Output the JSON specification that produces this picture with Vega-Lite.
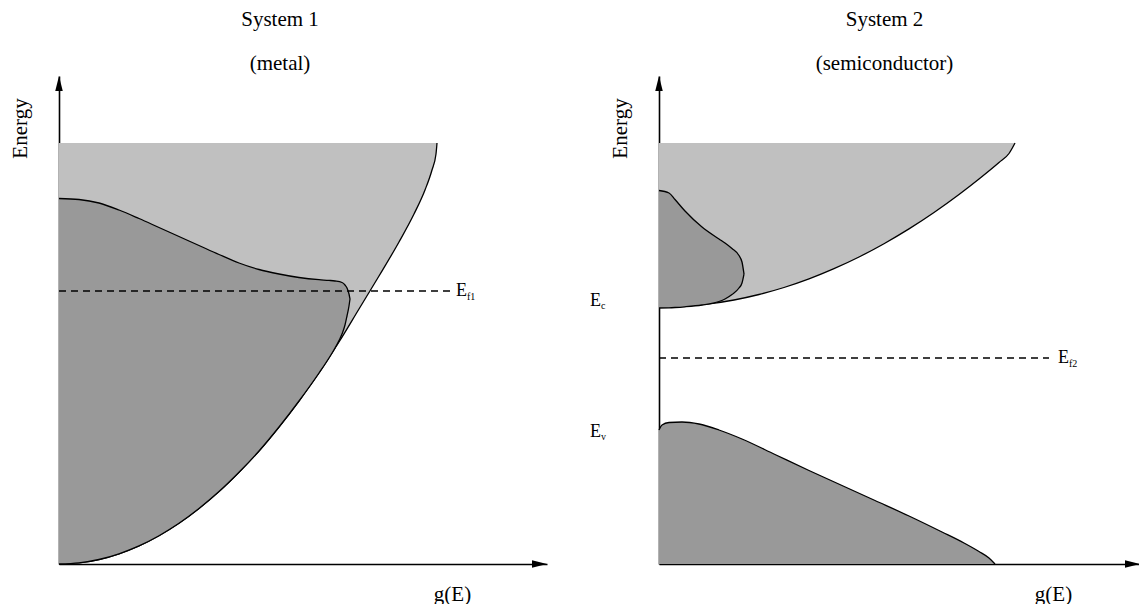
{
  "$schema": "https://vega.github.io/schema/vega-lite/v6.json",
  "padding": {"left": 8, "top": 9, "right": 0, "bottom": 0},
  "background": "white",
  "spacing": 112,
  "bounds": "flush",
  "config": {
    "view": {"stroke": null},
    "font": "Liberation Serif",
    "title": {"font": "Liberation Serif", "fontSize": 21, "fontWeight": "normal", "color": "black", "anchor": "middle", "lineHeight": 44},
    "axis": {"domain": true, "domainColor": "black", "domainWidth": 1.6, "ticks": false, "labels": false, "grid": false,
      "titleFont": "Liberation Serif", "titleFontSize": 21, "titleFontWeight": "normal", "titleColor": "black",
      "titleAlign": "center", "titleBaseline": "middle", "zindex": 1},
    "text": {"font": "Liberation Serif", "color": "black"}
  },
  "datasets": {
    "metalAllowed": [
      {"g": 0, "E": 0, "Etop": 421}, {"g": 20, "E": 1.1, "Etop": 421}, {"g": 40, "E": 4.5, "Etop": 421},
      {"g": 60, "E": 10.2, "Etop": 421}, {"g": 80, "E": 18.1, "Etop": 421}, {"g": 100, "E": 28.3, "Etop": 421},
      {"g": 120, "E": 40.7, "Etop": 421}, {"g": 140, "E": 55.5, "Etop": 421}, {"g": 160, "E": 72.4, "Etop": 421},
      {"g": 180, "E": 91.7, "Etop": 421}, {"g": 200, "E": 113, "Etop": 421}, {"g": 220, "E": 137, "Etop": 421},
      {"g": 240, "E": 163, "Etop": 421}, {"g": 260, "E": 191, "Etop": 421}, {"g": 280, "E": 222, "Etop": 421},
      {"g": 300, "E": 255, "Etop": 421}, {"g": 320, "E": 288, "Etop": 421}, {"g": 340, "E": 322, "Etop": 421},
      {"g": 355, "E": 350, "Etop": 421}, {"g": 366, "E": 374, "Etop": 421}, {"g": 373, "E": 394, "Etop": 421},
      {"g": 377, "E": 410, "Etop": 421}, {"g": 378, "E": 421, "Etop": 421}
    ],
    "metalFilled": [
      {"g": 0, "E": 365.5, "Elow": 0}, {"g": 20, "E": 364.5, "Elow": 1.1}, {"g": 40, "E": 361, "Elow": 4.5},
      {"g": 60, "E": 354, "Elow": 10.2}, {"g": 80, "E": 345.5, "Elow": 18.1}, {"g": 100, "E": 336.5, "Elow": 28.3},
      {"g": 120, "E": 327.5, "Elow": 40.7}, {"g": 140, "E": 318.5, "Elow": 55.5}, {"g": 160, "E": 309.5, "Elow": 72.4},
      {"g": 180, "E": 301, "Elow": 91.7}, {"g": 200, "E": 294.5, "Elow": 113}, {"g": 220, "E": 290, "Elow": 137},
      {"g": 240, "E": 286.5, "Elow": 163}, {"g": 260, "E": 284.3, "Elow": 191}, {"g": 270, "E": 283.6, "Elow": 206},
      {"g": 276, "E": 283, "Elow": 216}, {"g": 283, "E": 281.5, "Elow": 230}, {"g": 286, "E": 279, "Elow": 239},
      {"g": 288, "E": 276, "Elow": 248}, {"g": 290, "E": 270, "Elow": 258}, {"g": 291, "E": 265, "Elow": 265}
    ],
    "metalFermi": [{"g": 0, "E": 273, "sub": "f1"}, {"g": 391, "E": 273, "sub": "f1"}],
    "semiCondAllowed": [
      {"g": 0, "E": 257, "Etop": 421}, {"g": 25, "E": 257.8, "Etop": 421}, {"g": 50, "E": 260.1, "Etop": 421},
      {"g": 75, "E": 264, "Etop": 421}, {"g": 100, "E": 269.5, "Etop": 421}, {"g": 125, "E": 276.5, "Etop": 421},
      {"g": 150, "E": 285.1, "Etop": 421}, {"g": 175, "E": 295.3, "Etop": 421}, {"g": 200, "E": 307, "Etop": 421},
      {"g": 225, "E": 320.3, "Etop": 421}, {"g": 250, "E": 335.1, "Etop": 421}, {"g": 275, "E": 351.5, "Etop": 421},
      {"g": 300, "E": 369.5, "Etop": 421}, {"g": 320, "E": 385, "Etop": 421}, {"g": 340, "E": 401.5, "Etop": 421},
      {"g": 350, "E": 410.5, "Etop": 421}, {"g": 356, "E": 421, "Etop": 421}
    ],
    "semiCondFilled": [
      {"g": 0, "E": 373.5, "Elow": 256}, {"g": 10, "E": 371, "Elow": 256.2}, {"g": 16, "E": 364.5, "Elow": 256.5},
      {"g": 26, "E": 353, "Elow": 257.2}, {"g": 43, "E": 337, "Elow": 259}, {"g": 60, "E": 325, "Elow": 262.5},
      {"g": 66, "E": 321, "Elow": 265}, {"g": 73, "E": 315.5, "Elow": 269.5}, {"g": 80, "E": 308.5, "Elow": 276},
      {"g": 83, "E": 302, "Elow": 281}, {"g": 85, "E": 290, "Elow": 290}
    ],
    "semiValFilled": [
      {"g": 0, "E": 134}, {"g": 3, "E": 139}, {"g": 10, "E": 141.5}, {"g": 23, "E": 142}, {"g": 40, "E": 140},
      {"g": 60, "E": 134}, {"g": 83, "E": 125}, {"g": 116, "E": 109.5}, {"g": 150, "E": 93.5}, {"g": 183, "E": 78.5},
      {"g": 216, "E": 63.5}, {"g": 250, "E": 48}, {"g": 283, "E": 32}, {"g": 305, "E": 21}, {"g": 320, "E": 12.5},
      {"g": 330, "E": 6}, {"g": 336, "E": 0}
    ],
    "semiFermi": [{"g": 0, "E": 206, "sub": "f2"}, {"g": 390, "E": 206, "sub": "f2"}],
    "semiEdges": [{"g": 0, "E": 257, "sub": "c"}, {"g": 0, "E": 138, "sub": "v"}],
    "metalAxisEnds": [{"g": 0, "E": 488, "dir": "up"}, {"g": 488, "E": 0, "dir": "right"}],
    "semiAxisEnds": [{"g": 0, "E": 488, "dir": "up"}, {"g": 481, "E": 0, "dir": "right"}]
  },
  "hconcat": [
    {
      "width": 488,
      "height": 488,
      "title": {"text": ["System 1", "(metal)"], "dx": -23, "offset": 2},
      "encoding": {
        "x": {"field": "g", "type": "quantitative", "scale": {"domain": [0, 488], "nice": false},
          "axis": {"title": "g(E)", "titleX": 393, "titleY": 30}},
        "y": {"field": "E", "type": "quantitative", "scale": {"domain": [0, 488], "nice": false},
          "axis": {"title": "Energy", "titleX": -39, "titleY": 52, "titleAngle": -90}}
      },
      "layer": [
        {
          "data": {"name": "metalAllowed"},
          "mark": {"type": "area", "interpolate": "monotone", "color": "#c0c0c0", "opacity": 1,
            "line": {"color": "black", "strokeWidth": 1.3}},
          "encoding": {"y2": {"field": "Etop"}}
        },
        {
          "data": {"name": "metalFilled"},
          "mark": {"type": "area", "interpolate": "monotone", "color": "#999999", "opacity": 1,
            "line": {"color": "black", "strokeWidth": 1.3}},
          "encoding": {"y2": {"field": "Elow"}}
        },
        {
          "data": {"name": "metalFilled"},
          "mark": {"type": "line", "interpolate": "monotone", "color": "black", "strokeWidth": 1.3},
          "encoding": {"y": {"field": "Elow", "type": "quantitative", "scale": {"domain": [0, 488], "nice": false}}}
        },
        {
          "data": {"name": "metalFermi"},
          "mark": {"type": "line", "color": "black", "strokeWidth": 1.5, "strokeDash": [7, 5]},
          "encoding": {}
        },
        {
          "data": {"name": "metalFermi"},
          "transform": [{"filter": "datum.g > 0"}],
          "mark": {"type": "text", "align": "left", "baseline": "middle", "fontSize": 18, "dx": 6},
          "encoding": {"text": {"value": "E"}}
        },
        {
          "data": {"name": "metalFermi"},
          "transform": [{"filter": "datum.g > 0"}],
          "mark": {"type": "text", "align": "left", "baseline": "middle", "fontSize": 10, "dx": 17, "dy": 6},
          "encoding": {"text": {"field": "sub"}}
        },
        {
          "data": {"name": "metalAxisEnds"},
          "mark": {"type": "point", "size": 225, "filled": true, "color": "black", "opacity": 1, "strokeWidth": 0},
          "encoding": {"shape": {"field": "dir", "type": "nominal", "legend": null,
            "scale": {"domain": ["up", "right"], "range": ["M0,0L-0.5,2L0.5,2Z", "M0,0L-2,-0.5L-2,0.5Z"]}}}
        }
      ]
    },
    {
      "width": 481,
      "height": 488,
      "title": {"text": ["System 2", "(semiconductor)"], "dx": -15, "offset": 2},
      "encoding": {
        "x": {"field": "g", "type": "quantitative", "scale": {"domain": [0, 481], "nice": false},
          "axis": {"title": "g(E)", "titleX": 394, "titleY": 30}},
        "y": {"field": "E", "type": "quantitative", "scale": {"domain": [0, 488], "nice": false},
          "axis": {"title": "Energy", "titleX": -39, "titleY": 52, "titleAngle": -90}}
      },
      "layer": [
        {
          "data": {"name": "semiCondAllowed"},
          "mark": {"type": "area", "interpolate": "monotone", "color": "#c0c0c0", "opacity": 1,
            "line": {"color": "black", "strokeWidth": 1.3}},
          "encoding": {"y2": {"field": "Etop"}}
        },
        {
          "data": {"name": "semiCondFilled"},
          "mark": {"type": "area", "interpolate": "monotone", "color": "#999999", "opacity": 1,
            "line": {"color": "black", "strokeWidth": 1.3}},
          "encoding": {"y2": {"field": "Elow"}}
        },
        {
          "data": {"name": "semiCondFilled"},
          "mark": {"type": "line", "interpolate": "monotone", "color": "black", "strokeWidth": 1.3},
          "encoding": {"y": {"field": "Elow", "type": "quantitative", "scale": {"domain": [0, 488], "nice": false}}}
        },
        {
          "data": {"name": "semiValFilled"},
          "mark": {"type": "area", "interpolate": "monotone", "color": "#999999", "opacity": 1,
            "line": {"color": "black", "strokeWidth": 1.3}},
          "encoding": {}
        },
        {
          "data": {"name": "semiFermi"},
          "mark": {"type": "line", "color": "black", "strokeWidth": 1.5, "strokeDash": [7, 5]},
          "encoding": {}
        },
        {
          "data": {"name": "semiFermi"},
          "transform": [{"filter": "datum.g > 0"}],
          "mark": {"type": "text", "align": "left", "baseline": "middle", "fontSize": 18, "dx": 9},
          "encoding": {"text": {"value": "E"}}
        },
        {
          "data": {"name": "semiFermi"},
          "transform": [{"filter": "datum.g > 0"}],
          "mark": {"type": "text", "align": "left", "baseline": "middle", "fontSize": 10, "dx": 20, "dy": 6},
          "encoding": {"text": {"field": "sub"}}
        },
        {
          "data": {"name": "semiEdges"},
          "transform": [{"filter": "datum.sub == 'c'"}],
          "mark": {"type": "text", "align": "left", "baseline": "middle", "fontSize": 18, "dx": -69, "dy": -6},
          "encoding": {"text": {"value": "E"}}
        },
        {
          "data": {"name": "semiEdges"},
          "transform": [{"filter": "datum.sub == 'c'"}],
          "mark": {"type": "text", "align": "left", "baseline": "middle", "fontSize": 10, "dx": -58, "dy": -1},
          "encoding": {"text": {"field": "sub"}}
        },
        {
          "data": {"name": "semiEdges"},
          "transform": [{"filter": "datum.sub == 'v'"}],
          "mark": {"type": "text", "align": "left", "baseline": "middle", "fontSize": 18, "dx": -69, "dy": 6},
          "encoding": {"text": {"value": "E"}}
        },
        {
          "data": {"name": "semiEdges"},
          "transform": [{"filter": "datum.sub == 'v'"}],
          "mark": {"type": "text", "align": "left", "baseline": "middle", "fontSize": 10, "dx": -58, "dy": 11},
          "encoding": {"text": {"field": "sub"}}
        },
        {
          "data": {"name": "semiAxisEnds"},
          "mark": {"type": "point", "size": 225, "filled": true, "color": "black", "opacity": 1, "strokeWidth": 0},
          "encoding": {"shape": {"field": "dir", "type": "nominal", "legend": null,
            "scale": {"domain": ["up", "right"], "range": ["M0,0L-0.5,2L0.5,2Z", "M0,0L-2,-0.5L-2,0.5Z"]}}}
        }
      ]
    }
  ]
}
